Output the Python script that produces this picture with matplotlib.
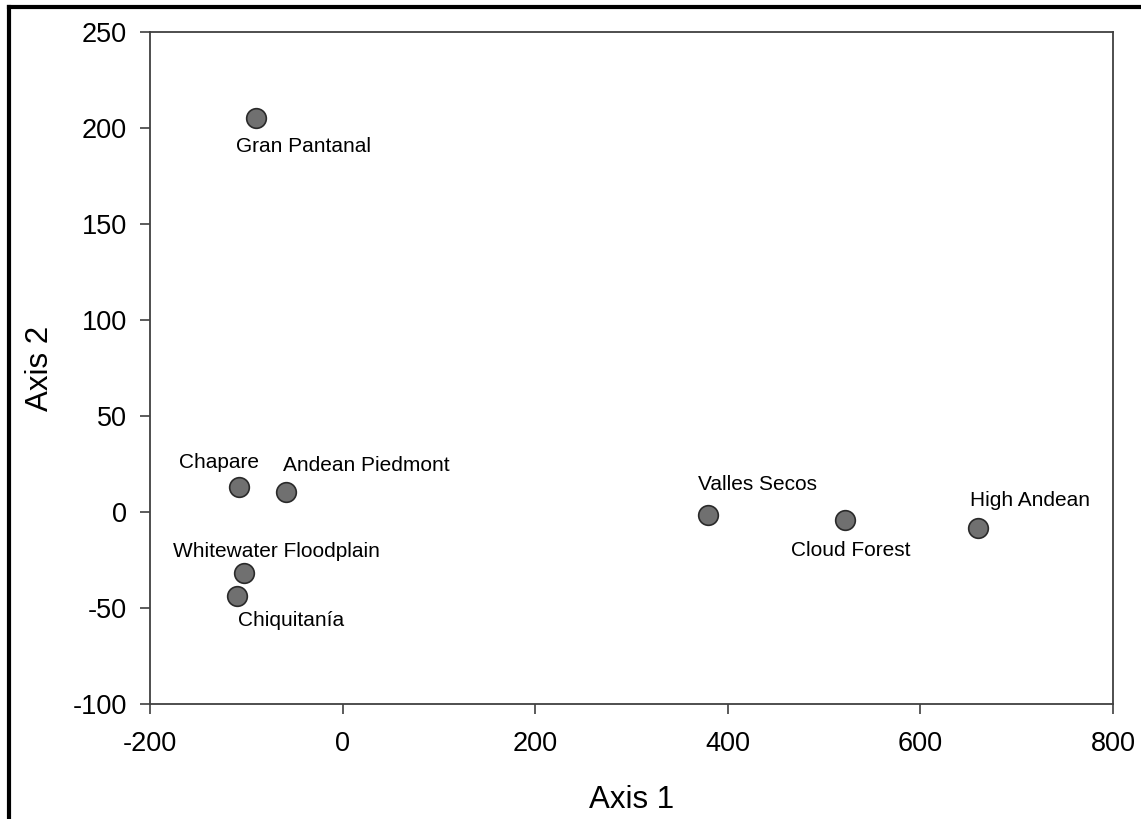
import matplotlib.pyplot as plt
from matplotlib.lines import Line2D

plt.rcParams["font.family"] = ["Liberation Sans", "DejaVu Sans"]
plt.rcParams["axes.unicode_minus"] = False

names = [
    "Gran Pantanal",
    "Chapare",
    "Andean Piedmont",
    "Whitewater Floodplain",
    "Chiquitanía",
    "Valles Secos",
    "Cloud Forest",
    "High Andean",
]
axis1 = [-90, -108, -59, -102, -110, 379, 522, 660]
axis2 = [205, 13, 10.5, -32, -43.5, -1.5, -4, -8.5]

# label offsets in points (dx, dy)
offsets = [
    (34, -20),
    (-14, 18),
    (58, 19),
    (23, 16),
    (39, -18),
    (36, 22),
    (4, -22),
    (37, 20),
]

fig = plt.figure(figsize=(11.41, 8.19), dpi=100)
ax = fig.add_axes([0.1315, 0.1404, 0.844, 0.8205])

ax.scatter(axis1, axis2, s=200, color="#707070", edgecolor="#2a2a2a",
           linewidth=1.2, zorder=3)
for name, x, y, (dx, dy) in zip(names, axis1, axis2, offsets):
    ax.annotate(name, (x, y), xytext=(dx, dy), textcoords="offset points",
                ha="center", va="center", fontsize=15)

ax.set_xlim(-200, 800)
ax.set_ylim(-100, 250)
ax.set_xticks(range(-200, 801, 200))
ax.set_yticks(range(-100, 251, 50))
ax.tick_params(labelsize=19.5, length=7.5, width=1.2, color="#404040")
ax.tick_params(axis="x", pad=12)
ax.tick_params(axis="y", pad=9)
for s in ax.spines.values():
    s.set_color("#404040")
    s.set_linewidth(1.3)
ax.set_xlabel("Axis 1", fontsize=22.5, labelpad=20)
ax.set_ylabel("Axis 2", fontsize=22.5, labelpad=13)

# outer frame (top and left)
fig.add_artist(Line2D([9 / 1141, 1], [1 - 7 / 819, 1 - 7 / 819],
                      transform=fig.transFigure, color="black", linewidth=3))
fig.add_artist(Line2D([9 / 1141, 9 / 1141], [0, 1 - 7 / 819],
                      transform=fig.transFigure, color="black", linewidth=3))

fig.savefig("out.png", dpi=100)
